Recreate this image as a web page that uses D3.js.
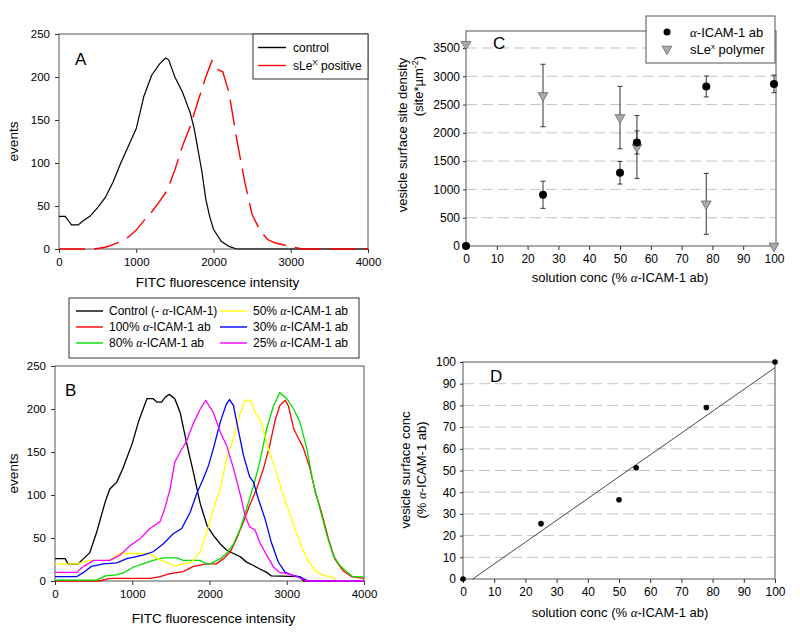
<!DOCTYPE html>
<html>
<head>
<meta charset="utf-8">
<script src="https://cdn.jsdelivr.net/npm/d3@7"></script>
<style>
  body { margin: 0; background: #fff; }
  text { font-family: "Liberation Sans", Arial, sans-serif; fill: #000; }
</style>
</head>
<body>
<svg id="fig" width="800" height="634"></svg>
<script>
// ---- panel A: flow cytometry histograms [intensity, events]
const controlA = [[0,38],[80,38],[130,32],[160,28],[250,28],[300,32],[400,38],[500,48],[600,60],[700,78],[800,100],[900,120],[1000,140],[1100,178],[1200,202],[1300,215],[1380,222],[1420,220],[1500,200],[1600,182],[1700,158],[1750,140],[1800,115],[1850,90],[1900,58],[1950,38],[2000,23],[2100,9],[2200,3],[2300,0],[4000,0]];
const slexA = [[0,0],[450,0],[600,2],[700,5],[800,9],[900,14],[1000,22],[1100,33],[1200,43],[1300,55],[1400,68],[1500,92],[1600,120],[1700,143],[1800,172],[1900,200],[1980,219],[2050,209],[2120,206],[2200,182],[2300,128],[2400,80],[2500,40],[2600,22],[2700,11],[2800,7],[2900,5],[3000,3],[3100,1],[3150,0],[4000,0]];

// ---- panel B
const controlB = [[0,26],[130,26],[170,20],[300,20],[370,26],[450,33],[540,57],[650,92],[710,107],[800,115],[880,131],[1000,160],[1080,185],[1190,212],[1270,212],[1320,208],[1380,208],[1430,214],[1480,217],[1550,212],[1620,196],[1700,162],[1790,127],[1880,90],[1970,64],[2050,53],[2140,43],[2220,36],[2310,32],[2400,28],[2480,22],[2570,18],[2650,14],[2740,10],[2800,6],[3170,5],[3220,0],[4000,0]];
const ab100 = [[0,0],[570,0],[710,3],[1230,3],[1360,5],[1490,8.5],[1660,11],[1790,17],[1960,20],[2090,20],[2180,26],[2270,34],[2350,49],[2440,69],[2520,88],[2610,107],[2700,131],[2780,158],[2850,187],[2910,204],[2980,210],[3020,204],[3090,177],[3150,166],[3210,156],[3300,131],[3370,103],[3450,80],[3540,49],[3620,26],[3730,12],[3840,5],[4000,3]];
const ab80 = [[0,1],[540,1],[650,6],[800,7],[900,10],[1010,16],[1140,20],[1270,24],[1400,27],[1580,27],[1660,24],[1880,24],[1960,20],[2010,20],[2140,26],[2220,32],[2310,43],[2400,61],[2480,84],[2570,111],[2650,138],[2740,177],[2830,204],[2910,219],[3000,212],[3090,200],[3170,185],[3260,154],[3340,115],[3430,84],[3520,53],[3600,30],[3690,18],[3780,10.5],[3860,4.7],[4000,4.7]];
const ab50 = [[0,20],[270,20],[370,22],[450,24],[710,24],[840,32],[1230,32],[1320,26],[1490,20],[1550,17],[1660,20],[1770,22],[1880,34],[1960,55],[2050,84],[2140,107],[2220,142],[2310,166],[2400,196],[2460,210],[2530,210],[2590,196],[2680,183],[2760,154],[2850,131],[2930,107],[3000,88],[3090,65],[3170,45],[3260,26],[3370,12],[3470,6.6],[3580,5],[3650,0],[4000,0]];
const ab30 = [[0,5],[280,5],[370,10],[470,17],[630,20],[800,21],[930,26],[1140,30],[1270,34],[1400,43],[1530,55],[1640,61],[1750,80],[1840,103],[1920,119],[1990,135],[2050,154],[2140,185],[2220,206],[2260,211],[2310,204],[2370,177],[2440,146],[2520,121],[2570,115],[2630,96],[2720,72],[2800,45],[2890,22],[2980,10],[3080,6.6],[3170,4.7],[3280,0],[4000,0]];
const ab25 = [[0,10],[280,10],[370,17],[500,24],[710,24],[840,30],[970,41],[1100,49],[1230,61],[1360,69],[1420,84],[1490,107],[1550,138],[1620,150],[1700,162],[1790,183],[1880,200],[1950,210],[2050,196],[2140,173],[2220,158],[2310,131],[2400,100],[2460,76],[2520,63],[2590,59],[2650,45],[2740,30],[2830,16],[2910,10],[3040,8],[3170,3.5],[3260,0],[4000,0]];

const fitcTicks = [0, 1000, 2000, 3000, 4000];
const eventTicks = [0, 50, 100, 150, 200, 250];

// ---- panel C: site density vs solution conc
const concC = [0, 25, 50, 55.5, 78, 100];
const icamDensity = [0, 905, 1295, 1830, 2820, 2865];
const icamErr = [0, 240, 200, 205, 185, 155];
const slexDensity = [3565, 2660, 2270, 1750, 745, 0];
const slexErr = [0, 552, 552, 555, 538, 0];
const densityTicks = [0, 500, 1000, 1500, 2000, 2500, 3000, 3500];

// ---- panel D: surface conc vs solution conc
const concD = [0, 25, 50, 55.5, 78, 100];
const surfaceConc = [0, 25.5, 36.5, 51.3, 79, 100];
const fitLine = [[3.1, 0], [100, 97.4]];
const concTicks = [0, 10, 20, 30, 40, 50, 60, 70, 80, 90, 100];
const surfaceTicks = [0, 10, 20, 30, 40, 50, 60, 70, 80, 90, 100];

const svg = d3.select("#fig");
svg.append("rect").attr("width", 800).attr("height", 634).attr("fill", "#fff");

const FONT = '"Liberation Sans", Arial, sans-serif';
const plain = d3.format("d");

// style the d3 axis groups like the old sigmaplot output
function styleAxis(g, size) {
  g.attr("font-family", FONT).attr("font-size", size);
  g.select(".domain").remove();
  g.selectAll(".tick line").attr("stroke", "#333");
  return g;
}

// alpha written in italic serif like the symbol font
function addAlphaText(sel, before, after) {
  sel.append("tspan").text(before);
  sel.append("tspan").style("font-family", '"Liberation Serif", serif').style("font-style", "italic").text("\u03b1");
  sel.append("tspan").text(after);
  return sel;
}

function rotLabel(x, y, size) {
  return svg.append("text")
    .attr("transform", `translate(${x},${y}) rotate(-90)`)
    .attr("text-anchor", "middle")
    .attr("dy", "0.35em")
    .style("font-size", size);
}

// ----------------------------
// histogram panels (A and B)
// ----------------------------
function histPanel(o) {
  const x = d3.scaleLinear().domain([0, 4000]).range([o.left, o.right]);
  const y = d3.scaleLinear().domain([0, 250]).range([o.bottom, o.top]);
  const g = svg.append("g");

  g.append("rect")
    .attr("x", o.left).attr("y", o.top)
    .attr("width", o.right - o.left).attr("height", o.bottom - o.top)
    .attr("fill", "none").attr("stroke", "#555").attr("stroke-width", 1);

  const line = d3.line().x(d => x(d[0])).y(d => y(d[1]));
  o.series.forEach(s => {
    g.append("path")
      .attr("d", line(s.data))
      .attr("fill", "none")
      .attr("stroke", s.color)
      .attr("stroke-width", s.width || 1.3)
      .attr("stroke-dasharray", s.dash || null);
  });

  styleAxis(g.append("g")
    .attr("transform", `translate(0,${o.bottom})`)
    .call(d3.axisBottom(x).tickValues(fitcTicks).tickSize(4).tickSizeOuter(0).tickPadding(5).tickFormat(plain)), "11.5px");
  styleAxis(g.append("g")
    .attr("transform", `translate(${o.left},0)`)
    .call(d3.axisLeft(y).tickValues(eventTicks).tickSize(4).tickSizeOuter(0).tickPadding(5).tickFormat(plain)), "11.5px");

  svg.append("text").attr("x", (o.left + o.right) / 2 + 4).attr("y", o.xLabelY)
    .attr("text-anchor", "middle").style("font-size", "13.5px")
    .text("FITC fluorescence intensity");
  rotLabel(13, (o.top + o.bottom) / 2, "13.5px").text("events");

  svg.append("text").attr("x", o.letterX).attr("y", o.letterY)
    .style("font-size", "17px").text(o.letter);
}

histPanel({
  left: 59, right: 368, top: 34, bottom: 249,
  xLabelY: 287, letter: "A", letterX: 75, letterY: 65,
  series: [
    { data: controlA, color: "#000", width: 1.2 },
    { data: slexA, color: "#ff0000", width: 1.4, dash: "26,9" }
  ]
});

// legend A
const legA = svg.append("g");
legA.append("rect").attr("x", 253).attr("y", 34).attr("width", 115).attr("height", 45)
  .attr("fill", "#fff").attr("stroke", "#333");
[["control", "#000", 47.5], ["sLe", "#ff0000", 65.5]].forEach(([lab, col, yy]) => {
  legA.append("line").attr("x1", 258).attr("x2", 286).attr("y1", yy).attr("y2", yy)
    .attr("stroke", col).attr("stroke-width", 1.4);
  const t = legA.append("text").attr("x", 293).attr("y", yy + 4).style("font-size", "12px");
  if (lab === "control") t.text(lab);
  else {
    t.append("tspan").text("sLe");
    t.append("tspan").attr("dy", -5).style("font-size", "8px").text("X");
    t.append("tspan").attr("dy", 5).text(" positive");
  }
});

const seriesB = [
  { data: controlB, color: "#000", label: "Control (- ", tail: "-ICAM-1)" },
  { data: ab100, color: "#ff0000", label: "100% ", tail: "-ICAM-1 ab" },
  { data: ab80, color: "#00e000", label: "80% ", tail: "-ICAM-1 ab" },
  { data: ab50, color: "#ffff00", label: "50% ", tail: "-ICAM-1 ab" },
  { data: ab30, color: "#0000ff", label: "30% ", tail: "-ICAM-1 ab" },
  { data: ab25, color: "#ff00ff", label: "25% ", tail: "-ICAM-1 ab" }
];

histPanel({
  left: 55, right: 364, top: 366, bottom: 581,
  xLabelY: 623, letter: "B", letterX: 65, letterY: 396,
  series: seriesB
});

// legend B
const legB = svg.append("g");
legB.append("rect").attr("x", 69).attr("y", 298).attr("width", 290).attr("height", 60)
  .attr("fill", "#fff").attr("stroke", "#333");
seriesB.forEach((s, i) => {
  const col = Math.floor(i / 3), row = i % 3;
  const lx = col === 0 ? 76 : 220;
  const yy = 311 + row * 16;
  legB.append("line").attr("x1", lx).attr("x2", lx + 27).attr("y1", yy).attr("y2", yy)
    .attr("stroke", s.color).attr("stroke-width", 1.4);
  addAlphaText(legB.append("text").attr("x", lx + 33).attr("y", yy + 4).style("font-size", "12px"),
    s.label, s.tail);
});

// ----------------------------
// scatter panels (C and D)
// ----------------------------
function gridFrame(g, x, y, ticksY, left, right, top, bottom) {
  g.selectAll("line.grid")
    .data(ticksY.filter(v => v > 0 && y(v) > top + 1))
    .enter().append("line")
    .attr("class", "grid")
    .attr("x1", left).attr("x2", right)
    .attr("y1", d => y(d)).attr("y2", d => y(d))
    .attr("stroke", "#c4c4c4").attr("stroke-dasharray", "11,5");
  g.append("rect").attr("x", left).attr("y", top)
    .attr("width", right - left).attr("height", bottom - top)
    .attr("fill", "none").attr("stroke", "#555");
}

// panel C
const xC = d3.scaleLinear().domain([0, 100]).range([466, 774]);
const yC = d3.scaleLinear().domain([0, 3800]).range([246, 31]);
const gC = svg.append("g");
gridFrame(gC, xC, yC, densityTicks, 466, 776, 31, 246);

styleAxis(gC.append("g").attr("transform", "translate(0,246)")
  .call(d3.axisBottom(xC).tickValues(concTicks).tickSize(4).tickSizeOuter(0).tickPadding(4).tickFormat(plain)), "12px");
styleAxis(gC.append("g").attr("transform", "translate(466,0)")
  .call(d3.axisLeft(yC).tickValues(densityTicks).tickSize(3).tickSizeOuter(0).tickPadding(3).tickFormat(plain)), "12px");

// error bars
function errorBars(g, xs, ys, errs, sc) {
  xs.forEach((c, i) => {
    if (!errs[i]) return;
    const cx = sc.x(c), y1 = sc.y(ys[i] - errs[i]), y2 = sc.y(ys[i] + errs[i]);
    g.append("line").attr("x1", cx).attr("x2", cx).attr("y1", y1).attr("y2", y2)
      .attr("stroke", "#333").attr("stroke-width", 1);
    [y1, y2].forEach(yy => g.append("line").attr("x1", cx - 2.5).attr("x2", cx + 2.5)
      .attr("y1", yy).attr("y2", yy).attr("stroke", "#333"));
  });
}
errorBars(gC, concC, icamDensity, icamErr, { x: xC, y: yC });
errorBars(gC, concC, slexDensity, slexErr, { x: xC, y: yC });

const triangle = d3.symbol().type(d3.symbolTriangle).size(42);

gC.selectAll("path.slex")
  .data(concC)
  .enter().append("path")
  .attr("class", "slex")
  .attr("d", triangle)
  .attr("transform", (d, i) => `translate(${xC(d)},${yC(slexDensity[i])}) rotate(180)`)
  .attr("fill", "#aaa").attr("stroke", "#666").attr("stroke-width", 0.8);

gC.selectAll("circle.icam")
  .data(concC)
  .enter().append("circle")
  .attr("class", "icam")
  .attr("cx", d => xC(d))
  .attr("cy", (d, i) => yC(icamDensity[i]))
  .attr("r", 4)
  .attr("fill", "#000");

// legend C
const legC = svg.append("g");
legC.append("rect").attr("x", 646).attr("y", 16).attr("width", 129).attr("height", 47)
  .attr("fill", "#fff").attr("stroke", "#555");
legC.append("circle").attr("cx", 667).attr("cy", 32).attr("r", 3.5).attr("fill", "#000");
legC.append("path").attr("d", triangle).attr("transform", "translate(667,49) rotate(180)")
  .attr("fill", "#aaa").attr("stroke", "#666").attr("stroke-width", 0.8);
addAlphaText(legC.append("text").attr("x", 690).attr("y", 37).style("font-size", "13px"), "", "-ICAM-1 ab");
const slexLab = legC.append("text").attr("x", 690).attr("y", 54).style("font-size", "13px");
slexLab.append("tspan").text("sLe");
slexLab.append("tspan").attr("dy", -5).style("font-size", "8px").text("x");
slexLab.append("tspan").attr("dy", 5).text(" polymer");

svg.append("text").attr("x", 493).attr("y", 49).style("font-size", "17px").text("C");
addAlphaText(svg.append("text").attr("x", 620).attr("y", 282).attr("text-anchor", "middle")
  .style("font-size", "13px"), "solution conc (% ", "-ICAM-1 ab)");
rotLabel(402, 135, "13px").text("vesicle surface site density");
const unitC = rotLabel(418, 86, "13px");
unitC.append("tspan").text("(site*\u00b5m");
unitC.append("tspan").attr("dy", -5).style("font-size", "9px").text("-2");
unitC.append("tspan").attr("dy", 5).text(")");

// panel D
const xD = d3.scaleLinear().domain([0, 100]).range([463, 775]);
const yD = d3.scaleLinear().domain([0, 100]).range([579, 362]);
const gD = svg.append("g");
gridFrame(gD, xD, yD, surfaceTicks, 463, 775, 362, 579);

styleAxis(gD.append("g").attr("transform", "translate(0,579)")
  .call(d3.axisBottom(xD).tickValues(concTicks).tickSize(4).tickSizeOuter(0).tickPadding(4).tickFormat(plain)), "12px");
styleAxis(gD.append("g").attr("transform", "translate(463,0)")
  .call(d3.axisLeft(yD).tickValues(surfaceTicks).tickSize(3).tickSizeOuter(0).tickPadding(4).tickFormat(plain)), "12px");

gD.append("path")
  .attr("d", d3.line().x(d => xD(d[0])).y(d => yD(d[1]))(fitLine))
  .attr("fill", "none").attr("stroke", "#333").attr("stroke-width", 0.9);

gD.selectAll("circle.pt")
  .data(concD)
  .enter().append("circle")
  .attr("class", "pt")
  .attr("cx", d => xD(d))
  .attr("cy", (d, i) => yD(surfaceConc[i]))
  .attr("r", 2.8)
  .attr("fill", "#000");

svg.append("text").attr("x", 490).attr("y", 382).style("font-size", "17px").text("D");
addAlphaText(svg.append("text").attr("x", 620).attr("y", 617).attr("text-anchor", "middle")
  .style("font-size", "13px"), "solution conc (% ", "-ICAM-1 ab)");
rotLabel(405, 470, "13px").text("vesicle surface conc");
addAlphaText(rotLabel(421, 470, "13px"), "(% ", "-ICAM-1 ab)");
</script>
</body>
</html>
